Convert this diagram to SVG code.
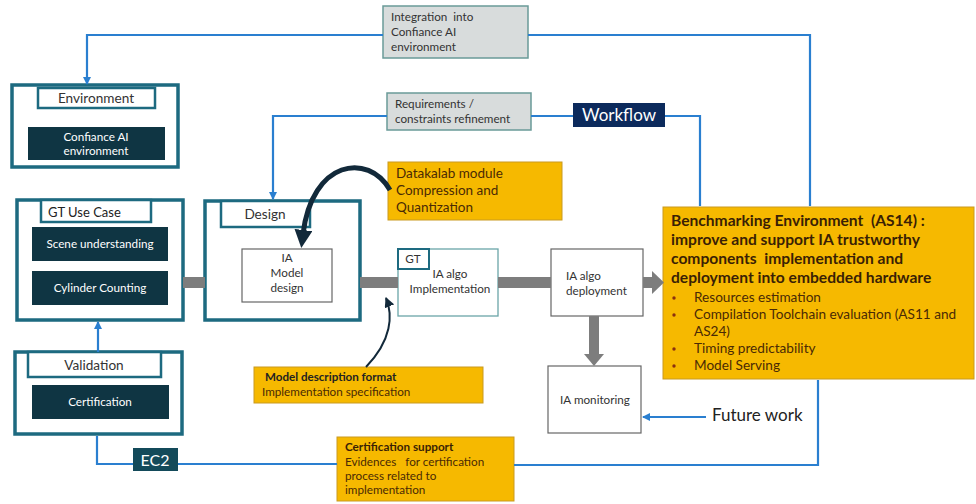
<svg xmlns="http://www.w3.org/2000/svg" width="976" height="504" viewBox="0 0 976 504">
<defs>
<style>
.outer{fill:#fff;stroke:#1d6a80;stroke-width:3.5}
.lbl{fill:#fff;stroke:#1d6a80;stroke-width:2.5}
.dark{fill:#0f3543}
.wt{fill:#fff;font-family:Lato,"Open Sans",sans-serif;font-size:11.7px}
.t{fill:#333;font-family:Lato,"Open Sans",sans-serif;font-size:11.7px}
.tl{fill:#333;font-family:Lato,"Open Sans",sans-serif;font-size:13.6px}
.grey{fill:#d8dcdc;stroke:#6a9a98;stroke-width:1.5}
.gold{fill:#f6b900;stroke:#c99a20;stroke-width:1}
.gt{fill:#4a2a05;font-family:Lato,"Open Sans",sans-serif;font-size:13.5px}
.gs{fill:#4a2a05;font-family:Lato,"Open Sans",sans-serif;font-size:11.7px}
.box{fill:#fff;stroke:#666;stroke-width:1.2}
.blue{fill:none;stroke:#2a7fd0;stroke-width:2.2}
.gbar{fill:#7d7d7d}
</style>
<marker id="ab" markerWidth="8" markerHeight="8" refX="7" refY="4" orient="auto" markerUnits="userSpaceOnUse">
<path d="M0,0 L8,4 L0,8 z" fill="#2a7fd0"/>
</marker>
<marker id="ad" markerWidth="18" markerHeight="18" refX="4" refY="9" orient="auto" markerUnits="userSpaceOnUse">
<path d="M0,0 L18,9 L0,18 z" fill="#12293a"/>
</marker>
<marker id="ad2" markerWidth="10" markerHeight="10" refX="9" refY="5" orient="auto" markerUnits="userSpaceOnUse">
<path d="M0,0 L10,5 L0,10 z" fill="#12293a"/>
</marker>
</defs>
<rect width="976" height="504" fill="#fff"/>

<g id="environment">
<rect class="outer" x="12" y="85" width="166" height="82"/>
<rect class="lbl" x="38" y="88" width="117" height="20"/>
<text class="tl" x="96" y="103" text-anchor="middle">Environment</text>
<rect class="dark" x="28" y="127" width="137" height="33"/>
<text class="wt" x="96" y="141" text-anchor="middle">Confiance AI</text>
<text class="wt" x="96" y="155" text-anchor="middle">environment</text>
</g>

<g id="integration">
<rect class="grey" x="383" y="6" width="145" height="52"/>
<text class="t" x="391" y="21" font-size="12px" xml:space="preserve">Integration  into</text>
<text class="t" x="391" y="36" font-size="12px">Confiance AI</text>
<text class="t" x="391" y="51" font-size="12px">environment</text>
</g>

<g id="requirements">
<rect class="grey" x="387" y="93" width="144" height="37"/>
<text class="t" x="395" y="108">Requirements /</text>
<text class="t" x="395" y="123">constraints refinement</text>
</g>

<g id="workflow">
<rect fill="#0c2a5c" x="573" y="103" width="92" height="24"/>
<text x="619" y="121" text-anchor="middle" fill="#fff" font-family="Lato,'Open Sans',sans-serif" font-size="17px">Workflow</text>
</g>

<g id="datakalab">
<rect class="gold" x="388" y="162" width="174" height="58"/>
<text class="gt" x="396" y="178">Datakalab module</text>
<text class="gt" x="396" y="195">Compression and</text>
<text class="gt" x="396" y="212">Quantization</text>
</g>

<g id="gt-use-case">
<rect class="outer" x="17" y="200" width="166" height="120"/>
<rect class="lbl" x="41" y="200" width="110" height="22"/>
<text x="48" y="217" fill="#222" font-family="Lato,'Open Sans',sans-serif" font-size="13px">GT Use Case</text>
<rect class="dark" x="32" y="227" width="136" height="34"/>
<text class="wt" x="100" y="248" text-anchor="middle">Scene understanding</text>
<rect class="dark" x="32" y="271" width="136" height="34"/>
<text class="wt" x="100" y="292" text-anchor="middle">Cylinder Counting</text>
</g>

<g id="design">
<rect class="outer" x="205" y="201" width="155" height="119"/>
<rect class="lbl" x="221" y="201" width="89" height="26"/>
<text class="tl" x="265" y="219" text-anchor="middle">Design</text>
<rect class="box" x="242" y="249" width="90" height="53"/>
<text class="t" x="287" y="262" text-anchor="middle">IA</text>
<text class="t" x="287" y="277" text-anchor="middle">Model</text>
<text class="t" x="287" y="292" text-anchor="middle">design</text>
</g>

<g id="ia-algo-implementation">
<rect x="398" y="249" width="100" height="67" fill="#fff" stroke="#6aa5a8" stroke-width="1.3"/>
<rect x="398" y="249" width="31" height="20" fill="#fff" stroke="#1d6a80" stroke-width="2"/>
<text class="t" x="413" y="263" text-anchor="middle">GT</text>
<text class="t" x="450" y="278" text-anchor="middle">IA algo</text>
<text class="t" x="450" y="293" text-anchor="middle">Implementation</text>
</g>

<g id="ia-algo-deployment">
<rect class="box" x="551" y="249" width="92" height="67"/>
<text class="t" x="566" y="280">IA algo</text>
<text class="t" x="566" y="295">deployment</text>
</g>

<g id="benchmarking">
<rect class="gold" x="663" y="207" width="311" height="172"/>
<g font-family="Lato,'Open Sans',sans-serif" font-weight="bold" font-size="15.6px" fill="#3a1f05">
<text x="671" y="226" xml:space="preserve">Benchmarking Environment  (AS14) :</text>
<text x="671" y="245">improve and support IA trustworthy</text>
<text x="671" y="264" xml:space="preserve">components  implementation and</text>
<text x="671" y="283">deployment into embedded hardware</text>
</g>
<g fill="#8a3010">
<circle cx="674" cy="298" r="1.7"/><circle cx="674" cy="315" r="1.7"/><circle cx="674" cy="349" r="1.7"/><circle cx="674" cy="366" r="1.7"/>
</g>
<g font-family="Lato,'Open Sans',sans-serif" font-size="13.6px" fill="#4a2a05">
<text x="694" y="302">Resources estimation</text>
<text x="694" y="319">Compilation Toolchain evaluation (AS11 and</text>
<text x="694" y="336">AS24)</text>
<text x="694" y="353">Timing predictability</text>
<text x="694" y="370">Model Serving</text>
</g>
</g>

<g id="validation">
<rect class="outer" x="15" y="352" width="167" height="82"/>
<rect class="lbl" x="28" y="352" width="133" height="25"/>
<text class="tl" x="94" y="370" text-anchor="middle">Validation</text>
<rect class="dark" x="32" y="385" width="137" height="34"/>
<text class="wt" x="100" y="406" text-anchor="middle">Certification</text>
</g>

<g id="model-description">
<rect class="gold" x="254" y="367" width="229" height="36"/>
<text x="265" y="381" fill="#222" font-family="Lato,'Open Sans',sans-serif" font-size="11.6px" font-weight="bold">Model description format</text>
<text class="gs" x="262" y="396">Implementation specification</text>
</g>

<g id="ia-monitoring">
<rect class="box" x="548" y="366" width="93" height="67"/>
<text class="t" x="595" y="404" text-anchor="middle">IA monitoring</text>
</g>

<g id="future-work">
<text x="712" y="421" fill="#222" font-family="Lato,'Open Sans',sans-serif" font-size="17px">Future work</text>
</g>

<g id="ec2">
<rect x="133" y="448" width="45" height="23" fill="#134a5a"/>
<text x="155" y="466" text-anchor="middle" fill="#fff" font-family="Lato,'Open Sans',sans-serif" font-size="16px">EC2</text>
</g>

<g id="certification-support">
<rect class="gold" x="337" y="437" width="177" height="64"/>
<text x="345" y="451" fill="#3a1f05" font-family="Lato,'Open Sans',sans-serif" font-size="11.7px" font-weight="bold">Certification support</text>
<text class="gs" x="345" y="466" xml:space="preserve">Evidences   for certification</text>
<text class="gs" x="345" y="480">process related to</text>
<text class="gs" x="345" y="494">implementation</text>
</g>

<g id="connectors">
<polyline class="blue" points="810,206 810,35 528,35"/>
<polyline class="blue" points="383,35 87,35 87,84" marker-end="url(#ab)"/>
<polyline class="blue" points="700,206 700,116 665,116"/>
<line class="blue" x1="573" y1="116" x2="531" y2="116"/>
<polyline class="blue" points="387,116 273,116 273,199" marker-end="url(#ab)"/>
<polyline class="blue" points="818,380 818,465 514,465"/>
<line class="blue" x1="337" y1="464" x2="178" y2="464"/>
<polyline class="blue" points="133,464 97,464 97,436"/>
<line class="blue" x1="98" y1="352" x2="98" y2="322" marker-end="url(#ab)"/>
<line class="blue" x1="706" y1="417" x2="643" y2="417" marker-end="url(#ab)"/>
<rect class="gbar" x="183" y="277" width="22" height="11"/>
<rect class="gbar" x="360" y="277" width="38" height="11"/>
<rect class="gbar" x="498" y="277" width="53" height="11"/>
<rect class="gbar" x="643" y="277" width="10" height="11"/>
<path class="gbar" d="M652,271 L664,282.5 L652,294 z"/>
<rect class="gbar" x="589" y="316" width="10" height="40"/>
<path class="gbar" d="M584,354 L604,354 L594,366 z"/>
<path d="M390,190 C368,152 312,160 303,234" fill="none" stroke="#12293a" stroke-width="5" marker-end="url(#ad)"/>
<path d="M366,367 C392,340 393,315 386,298" fill="none" stroke="#12293a" stroke-width="2" marker-end="url(#ad2)"/>
</g>
</svg>
